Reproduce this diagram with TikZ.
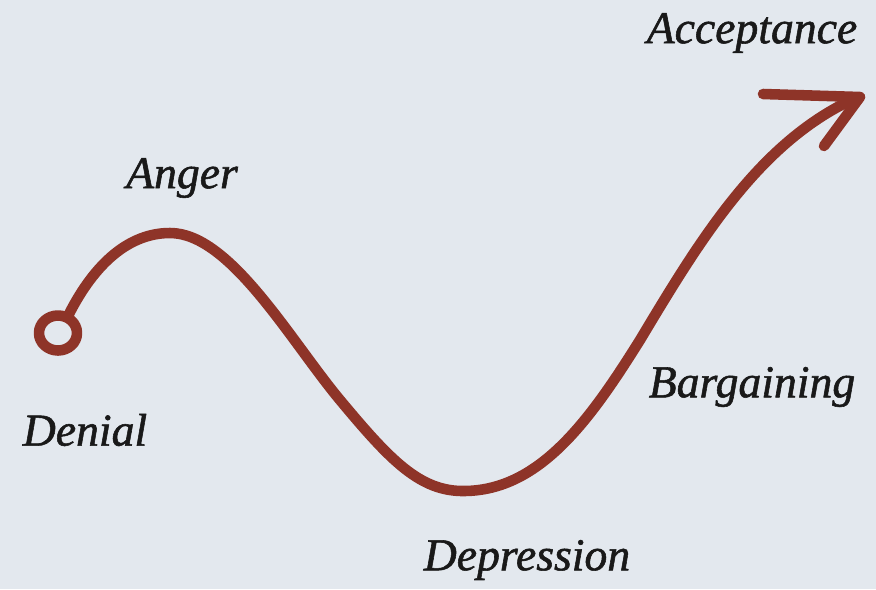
\documentclass[tikz,border=0pt]{standalone}
\usepackage{fontspec}
\newfontface\stagefont{Liberation Serif Italic}[FakeBold=1.2]
\usepackage{tikz}
\definecolor{BGray}{RGB}{227,232,238}
\definecolor{DRed}{RGB}{142,52,40}
\tikzset{stage/.style={font=\stagefont\fontsize{26}{30}\selectfont, text=black!90},
  brush/.style={DRed, line width=6pt, line cap=round, line join=round}}

\begin{document}
\begin{tikzpicture}[x=0.02cm, y=-0.02cm]
\fill[BGray] (0,0) rectangle (876,589);
\useasboundingbox (0,0) rectangle (876,589);

\draw[brush] (58,333) ellipse[x radius=0.38cm, y radius=0.35cm];
\draw[brush] (68,316) .. controls (95,262) and (130,233) .. (170,233) .. controls (230,233) and (290,340) .. (340,400) .. controls (390,460) and (420,492) .. (465,491) .. controls (540,490) and (590,420) .. (640,340) .. controls (700,240) and (760,140) .. (858,97);
\draw[brush] (763,94) -- (860,97) -- (824,146);

\node[stage] (acceptance) at (752,33) {Acceptance};
\node[stage] (anger) at (182,178) {Anger};
\node[stage] (denial) at (85,430) {Denial};
\node[stage] (depression) at (527,560) {Depression};
\node[stage] (bargaining) at (752,387) {Bargaining};
\end{tikzpicture}
\end{document}
